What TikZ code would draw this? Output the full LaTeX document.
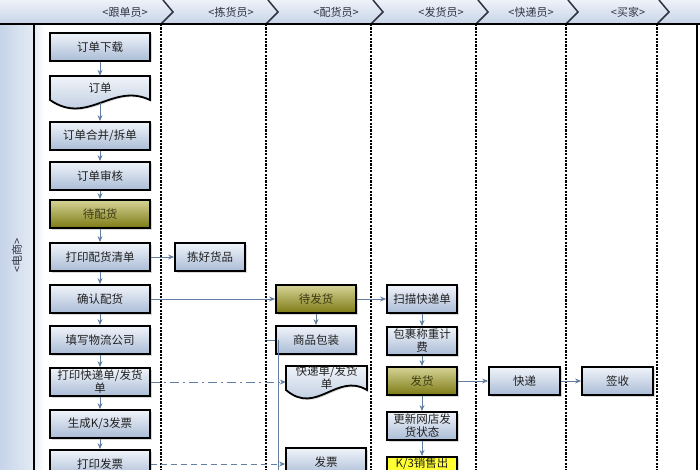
\documentclass[tikz,border=0pt]{standalone}
\usepackage{fontspec}
\setmainfont{Noto Sans CJK SC}
\usepackage{tikz}
\usetikzlibrary{arrows.meta, positioning, shadows}
\definecolor{boxtop}{RGB}{240,244,250}
\definecolor{boxbot}{RGB}{170,188,214}
\definecolor{olvtop}{RGB}{214,212,150}
\definecolor{olvbot}{RGB}{124,122,20}
\definecolor{hdrtop}{RGB}{238,242,249}
\definecolor{hdrbot}{RGB}{198,212,232}
\definecolor{pooll}{RGB}{198,212,232}
\definecolor{poolr}{RGB}{228,235,245}
\definecolor{flowc}{RGB}{98,126,160}
\definecolor{chevc}{RGB}{48,50,64}
\definecolor{txtc}{RGB}{32,32,32}
\definecolor{kyellow}{RGB}{255,255,50}
\tikzset{
  line/.style={draw=flowc, line width=0.9pt},
  arrow/.style={draw=flowc, line width=0.9pt, -{Stealth[length=6pt,width=5pt]}},
  dasharrow/.style={arrow, dash pattern=on 6pt off 4pt},
  dotarrow/.style={arrow, dash pattern=on 9pt off 4pt on 2pt off 4pt},
  basebox/.style={draw=black, line width=1.8pt, rectangle, align=center, font=\fontsize{11.5}{13}\selectfont, text=txtc, minimum height=28pt, minimum width=100pt, inner sep=1pt, drop shadow={shadow xshift=1.5pt, shadow yshift=-1.5pt, opacity=0.3}},
  block/.style={basebox, top color=boxtop, bottom color=boxbot},
  oblock/.style={basebox, top color=olvtop, bottom color=olvbot, text={rgb,255:red,60;green,58;blue,20}},
  yblock/.style={basebox, fill=kyellow},
  docshape/.style={draw=black, line width=1.8pt, top color=boxtop, bottom color=boxbot, drop shadow={shadow xshift=1.5pt, shadow yshift=-1.5pt, opacity=0.3}},
  doctext/.style={font=\fontsize{11.5}{13}\selectfont, text=txtc, align=center, inner sep=1pt, minimum height=24pt},
  lanesep/.style={draw=black, line width=1.6pt, dash pattern=on 2.2pt off 1.2pt},
  chev/.style={draw=chevc, line width=1.5pt, line join=miter},
  hdr/.style={font=\fontsize{11}{12}\selectfont, text=chevc}
}
% document shape: half width, x, y, name, text
\newcommand{\docnode}[5]{%
  \filldraw[docshape] (#2-#1,#3-14) -- (#2+#1,#3-14) -- (#2+#1,#3+10)
    .. controls (#2+0.25*#1,#3-8) and (#2-0.25*#1,#3+36) .. (#2-#1,#3+10) -- cycle;
  \node[doctext, minimum width={2*#1pt}] (#4) at (#2,#3-2) {#5};}

\begin{document}
\begin{tikzpicture}[x=1pt, y=-1pt]
  \useasboundingbox (0,0) rectangle (700,470);
  \clip (0,0) rectangle (700,470);

  % lanes
  \shade[top color=hdrtop, bottom color=hdrbot] (0,0) rectangle (700,24);
  \shade[left color=pooll, right color=poolr] (0,24) rectangle (34,470);
  \shade[left color=poolr, right color=white] (34,24) rectangle (44,470);
  \foreach \x in {161,266,371,476,566,657}
    \draw[chev] (\x+2,0) -- (\x+12,12) -- (\x,24);
  \foreach \x in {161,266,371,476,566,657}
    \draw[lanesep] (\x,24) -- (\x,470);
  \draw[black, line width=1.6pt] (0,24) -- (700,24) (34,24) -- (34,470) (697,24) -- (697,470);

  \node[hdr] (h1) at (125,12) {<跟单员>};
  \node[hdr] (h2) at (231,12) {<拣货员>};
  \node[hdr] (h3) at (336,12) {<配货员>};
  \node[hdr] (h4) at (441,12) {<发货员>};
  \node[hdr] (h5) at (531,12) {<快递员>};
  \node[hdr] (h6) at (628,12) {<买家>};
  \node[hdr, rotate=90] (pool) at (17,255) {<电商>};

  % 跟单员
  \node[block] (dl) at (100,47) {订单下载};
  \docnode{50}{100}{90}{order}{订单}
  \node[block] (merge) at (100,136) {订单合并/拆单};
  \node[block] (audit) at (100,176) {订单审核};
  \node[oblock] (wait) at (100,214) {待配货};
  \node[block] (plist) at (100,257) {打印配货清单};
  \node[block] (confirm) at (100,299) {确认配货};
  \node[block] (fillco) at (100,340) {填写物流公司};
  \node[block] (pexp) at (100,382) {打印快递单/发货\\单};
  \node[block] (ginv) at (100,424) {生成K/3发票};
  \node[block] (pinv) at (100,464) {打印发票};

  % 拣货员
  \node[block, minimum width=70pt] (picked) at (210,257) {拣好货品};

  % 配货员
  \node[oblock, minimum width=80pt] (towait) at (316,299) {待发货};
  \node[block, minimum width=80pt] (pack) at (316,340) {商品包装};
  \docnode{40.5}{326.5}{380}{expdoc}{快递单/发货\\单}
  \node[block, minimum width=80pt] (inv) at (326,462) {发票};

  % 发货员
  \node[block, minimum width=70pt] (scan) at (422,299) {扫描快递单};
  \node[block, minimum width=70pt] (weigh) at (422,341) {包裹称重计\\费};
  \node[oblock, minimum width=70pt] (ship) at (422,381) {发货};
  \node[block, minimum width=70pt] (update) at (422,426) {更新网店发\\货状态};
  \node[yblock, minimum width=70pt, minimum height=0pt, anchor=north, inner ysep=1pt, text depth=16pt] (k3) at (422,456) {K/3销售出};

  % 快递员, 买家
  \node[block, minimum width=71pt] (exp) at (524.5,381) {快递};
  \node[block, minimum width=71pt] (sign) at (617.5,381) {签收};

  % flow
  \foreach \a/\b in {dl/order, merge/audit, audit/wait, wait/plist, plist/confirm, confirm/fillco, fillco/pexp, pexp/ginv, ginv/pinv}
    \draw[arrow] (\a.south) -- (\b.north);
  \draw[arrow] ([yshift=-3pt]order.south) -- (merge.north);
  \draw[arrow] (plist) -- (picked);
  \draw[arrow] (confirm) -- (towait);
  \draw[arrow] (towait) -- (pack);
  \draw[arrow] (towait) -- (scan);
  \foreach \a/\b in {scan/weigh, weigh/ship, ship/update, update/k3}
    \draw[arrow] (\a.south) -- (\b.north);
  \draw[arrow] (ship) -- (exp);
  \draw[arrow] (exp) -- (sign);
  \draw[dotarrow] (pexp.east) -- (pexp.east -| expdoc.west);
  \draw[dasharrow] (pinv.east) -- (pinv.east -| inv.west);

  \coordinate (packL) at (267,340);
  \coordinate (packD) at (278,480);
  \draw[line] (packL) -- (pack.west);
  \draw[line] (pack.west -| packD) -- (packD);
\end{tikzpicture}
\end{document}
